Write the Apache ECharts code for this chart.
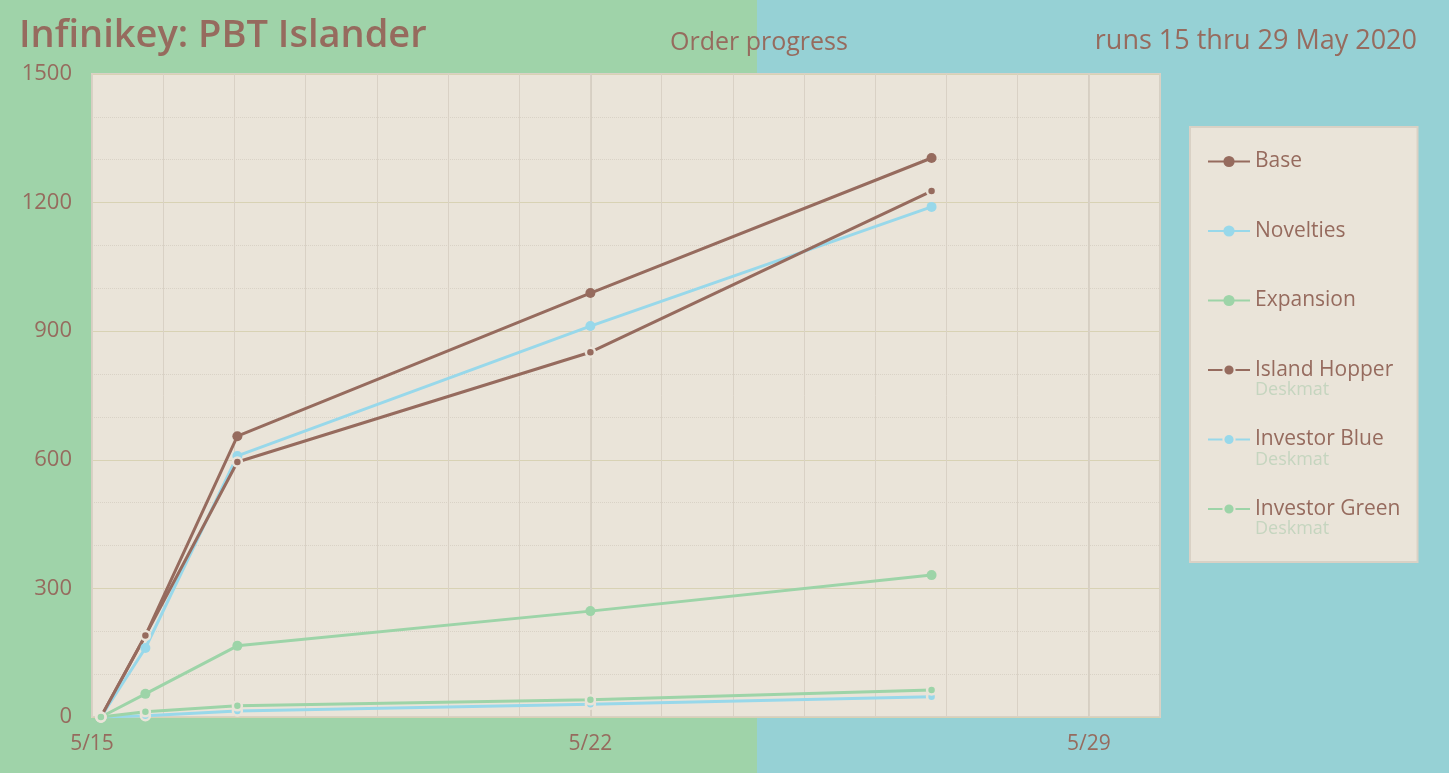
<!DOCTYPE html>
<html>
<head>
<meta charset="utf-8">
<title>Infinikey: PBT Islander</title>
<script src="https://cdn.jsdelivr.net/npm/echarts@6/dist/echarts.min.js"></script>
<style>
  html, body { margin: 0; padding: 0; }
  #main { width: 1449px; height: 773px; }
</style>
</head>
<body>
<div id="main"></div>
<script>
// order snapshots
const times = ['2020-05-15T03:00', '2020-05-15T18:00', '2020-05-17T01:00', '2020-05-22T00:00', '2020-05-26T19:00'];
const seriesNames = ['Base', 'Novelties', 'Expansion', 'Island Hopper', 'Investor Blue', 'Investor Green'];
const seriesSubs = ['', '', '', 'Deskmat', 'Deskmat', 'Deskmat'];

const base = [0, 190, 655, 989, 1304];
const novelties = [0, 161, 609, 912, 1190];
const expansion = [0, 54, 166, 247, 331];
const islandHopper = [0, 190, 595, 851, 1227];
const investorBlue = [0, 3, 14, 30, 47];
const investorGreen = [0, 12, 26, 40, 63];

const xTickDays = [0, 7, 14];
const xTickLabels = ['5/15', '5/22', '5/29'];
const yTicks = [0, 300, 600, 900, 1200, 1500];

const brown = '#966b5e';
const blue = '#98d8ea';
const green = '#9dd4a8';
const plotBg = '#eae4d9';

// days since 5/15 00:00
const start = Date.parse('2020-05-15T00:00');
const dayX = times.map(t => (Date.parse(t) - start) / 86400000);

function pts(vals) {
  return vals.map((v, i) => [dayX[i], v]);
}

function mainLine(name, color, vals) {
  return {
    name: name, type: 'line', data: pts(vals),
    symbol: 'circle', symbolSize: 10,
    lineStyle: { color: color, width: 3 },
    itemStyle: { color: color },
    animation: false
  };
}

function deskLine(name, color, vals) {
  return {
    name: name, type: 'line', data: pts(vals),
    symbol: 'circle', symbolSize: 9,
    lineStyle: { color: color, width: 3 },
    itemStyle: { color: color, borderColor: plotBg, borderWidth: 2.5 },
    animation: false
  };
}

let chart = echarts.init(document.getElementById('main'));

let option = {
  backgroundColor: new echarts.graphic.LinearGradient(0, 0, 1, 0, [
    { offset: 0, color: '#9fd3a9' },
    { offset: 0.5224, color: '#9fd3a9' },
    { offset: 0.5224, color: '#96d1d5' },
    { offset: 1, color: '#96d1d5' }
  ]),
  textStyle: { fontFamily: 'Open Sans' },
  title: [
    {
      text: 'Infinikey: PBT Islander', left: 14, top: 12,
      textStyle: { color: brown, fontSize: 38, fontWeight: 600, fontFamily: 'Open Sans' }
    },
    {
      text: 'Order progress', left: 665, top: 25,
      textStyle: { color: brown, fontSize: 25, fontWeight: 'normal', fontFamily: 'Open Sans' }
    },
    {
      text: 'runs 15 thru 29 May 2020', right: 27, top: 23,
      textStyle: { color: brown, fontSize: 27, fontWeight: 'normal', fontFamily: 'Open Sans' }
    }
  ],
  grid: {
    left: 92, right: 289, top: 74, bottom: 56,
    show: true, backgroundColor: plotBg, borderColor: '#d9d1c5', borderWidth: 2
  },
  legend: {
    orient: 'vertical', left: 1190, top: 127,
    padding: [24, 17, 24, 17],
    itemGap: 30,
    itemWidth: 42, itemHeight: 14,
    backgroundColor: plotBg, borderColor: '#d9d1c5', borderWidth: 2,
    formatter: function (name) {
      let sub = seriesSubs[seriesNames.indexOf(name)];
      return '{a|' + name + '}\n{b|' + (sub || ' ') + '}';
    },
    textStyle: {
      padding: [20, 0, 0, 0],
      rich: {
        a: { color: brown, fontSize: 21, lineHeight: 20, fontFamily: 'Open Sans' },
        b: { color: '#c5d5bf', fontSize: 18, lineHeight: 20, fontFamily: 'Open Sans' }
      }
    },
    data: seriesNames
  },
  xAxis: [
    {
      type: 'value', min: 0, max: 15, interval: 7,
      axisLine: { show: false }, axisTick: { show: false },
      axisLabel: {
        color: brown, fontSize: 21, margin: 17,
        formatter: function (v) {
          let i = xTickDays.indexOf(v);
          return i >= 0 ? xTickLabels[i] : '';
        }
      },
      splitLine: { show: true, lineStyle: { color: '#d6cfc3', width: 2 } }
    },
    {
      type: 'value', min: 0, max: 15, interval: 1, position: 'bottom',
      axisLine: { show: false }, axisTick: { show: false },
      axisLabel: { show: false },
      splitLine: { show: true, lineStyle: { color: '#d9d1c5', width: 1 } }
    }
  ],
  yAxis: {
    type: 'value', min: yTicks[0], max: yTicks[yTicks.length - 1], interval: 300,
    axisLine: { show: false }, axisTick: { show: false },
    axisLabel: { color: brown, fontSize: 22, margin: 20, formatter: v => String(v) },
    splitLine: { show: true, lineStyle: { color: '#d8d2b4', width: 1 } },
    minorTick: { show: false, splitNumber: 3 },
    minorSplitLine: { show: true, lineStyle: { color: '#d9d2c6', type: 'dotted', width: 1 } }
  },
  series: [
    mainLine(seriesNames[0], brown, base),
    mainLine(seriesNames[1], blue, novelties),
    mainLine(seriesNames[2], green, expansion),
    deskLine(seriesNames[3], brown, islandHopper),
    deskLine(seriesNames[4], blue, investorBlue),
    deskLine(seriesNames[5], green, investorGreen)
  ]
};

option && chart.setOption(option);
</script>
</body>
</html>
